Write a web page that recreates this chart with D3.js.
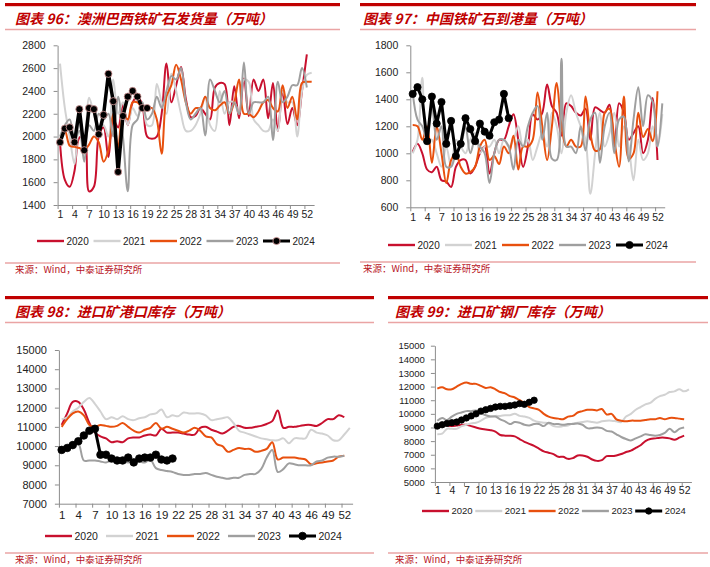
<!DOCTYPE html>
<html>
<head>
<meta charset="utf-8">
<script src="https://cdn.jsdelivr.net/npm/d3@7"></script>
<style>
  body { margin: 0; background: #fff; }
  svg { display: block; }
</style>
</head>
<body>
<svg id="chart" width="710" height="567"></svg>
<script>
// ---- Chart 96: Australia + Brazil iron ore shipments (10k t), by week ----
const ship2020 = [1950,1620,1560,1700,1990,2000,1520,1560,2000,2080,1820,2150,2080,2280,2100,2300,2350,2280,2000,1980,2000,2200,2640,2300,2450,2610,2330,2170,2180,2250,2200,2150,2430,2470,2460,2100,2440,2160,2510,2180,2500,2400,2500,2160,2470,2050,2400,2110,2250,2100,2400,2720];
const ship2021 = [2640,2250,2000,1760,2120,1900,2340,2200,2080,2100,2000,2500,2200,2300,2100,2250,2180,2300,2100,2100,2460,2300,2200,2550,2400,2200,2050,2050,2100,2200,2350,2100,2050,2400,2200,2300,2300,2200,2500,2480,2150,2100,2050,2050,2150,2050,2400,2300,2300,2000,2400,2540,2560];
const ship2022 = [1970,2050,1920,1910,1900,1880,1930,2000,1950,1780,1880,2200,1900,2200,2150,2300,2300,2250,2250,2250,2150,1850,2350,2450,2630,2500,2300,2200,2250,2250,2350,2250,2230,2270,2300,2200,2300,2500,2200,2200,2170,2220,2300,2320,2250,2220,2450,2250,2350,2150,2470,2480,2480];
const ship2023 = [2000,2100,2150,1980,2050,1780,2100,2050,2200,2150,2200,2000,2350,2000,1520,2100,2150,2300,2150,2200,2350,2250,2400,2530,2500,2600,2300,2150,2200,2250,2010,2500,2400,2300,2400,2200,2300,2200,2650,2200,2300,2300,2300,2350,1970,2480,2300,2350,2450,2450,2600,2430];
const ship2024 = [1950,2070,2080,1950,2240,1880,2250,2240,2020,2190,2550,2310,1690,2180,2350,2400,2350,2250,2250];

// ---- Chart 97: China iron ore arrivals (10k t) ----
const arr2020 = [1010,1070,1000,880,860,900,800,790,750,900,950,950,850,900,1000,1050,850,1000,1100,1100,1200,1290,1100,900,1050,1290,1250,1300,1510,1350,1300,1130,1370,1350,1300,1280,1330,1100,1340,1320,1300,1360,1050,1370,1300,1100,1150,1200,1000,1100,1410,950];
const arr2021 = [1000,1100,1560,1100,1100,1000,900,1050,900,1100,1050,1000,1100,1150,1000,1050,1050,1100,1000,1100,1050,1100,1200,1050,1100,950,1050,1150,1050,1300,1200,1000,1300,1430,1300,1200,1100,700,1000,1300,1050,1150,1300,1050,1200,1050,800,1100,950,1000,1200,1050,1290];
const arr2022 = [1210,1200,1100,1200,930,1200,1000,780,950,1000,900,850,860,900,1050,1100,950,980,920,1050,1000,1130,880,1050,1050,1100,1450,1200,950,1200,1520,1200,1050,1100,1050,1050,1420,1150,1020,1030,1300,1330,1100,900,1420,960,1000,1300,1120,1180,1090,1460];
const arr2023 = [1450,1250,1200,1100,1350,1100,1200,900,900,1000,1050,1200,1000,1100,1050,1000,780,1000,1100,1100,1050,880,1100,1050,1200,1300,1350,1100,1300,960,950,1700,1050,1050,1000,1200,1020,1250,1300,930,1200,1300,1000,1250,1270,940,1250,1490,1200,1430,1380,1050,1370];
const arr2024 = [1440,1490,1400,1090,1420,1220,1380,1070,1240,980,1070,1260,1180,1090,1220,1160,1130,1230,1250,1440,1260];

// ---- Chart 98: imported ore port inventory (10k t) ----
const port2020 = [11100,11700,12300,12300,11900,11200,10700,10500,10400,10200,10250,10200,10400,10450,10450,10550,10600,10550,10900,10700,10700,10700,10650,10600,10600,10950,11000,10850,10750,10650,10800,11000,11050,10950,10950,11000,11050,11150,11300,11850,10950,11000,11000,11050,11100,11100,11050,11200,11400,11400,11600,11500];
const port2021 = [11400,11500,11800,12000,12300,12500,12200,11800,11400,11500,11400,11550,11400,11350,11450,11500,11650,11700,11900,11500,11600,11550,11750,11700,11700,11700,11600,11350,11400,11450,11500,11200,10800,10700,10600,10500,10400,10350,10300,10300,10400,10150,10400,10400,10400,10850,10700,10650,10550,10300,10300,10600,10950];
const port2022 = [11000,11400,11700,11800,11600,11100,11000,11100,11050,11000,11050,11200,11000,10800,10700,10850,10950,11200,10900,11000,10900,10800,10700,10800,10950,10800,10500,10450,10100,10000,9700,9800,9900,9850,9850,9700,9750,9850,10200,9300,9400,9400,9400,9350,9300,9050,9100,9150,9200,9250,9450,9500];
const port2023 = [9800,10000,10200,10150,9250,9250,9250,9200,9150,9250,9250,9200,9150,9200,9200,9150,9300,8850,8750,8700,8650,8550,8500,8500,8550,8550,8600,8500,8400,8350,8300,8350,8350,8500,8550,8550,8800,9400,9800,8650,8800,9100,9050,9000,9000,9000,9200,9250,9400,9450,9450,9500];
const port2024 = [9800,9900,10050,10250,10550,10800,10900,9550,9550,9350,9250,9250,9400,9150,9350,9400,9400,9550,9300,9250,9350];

// ---- Chart 99: imported ore mill inventory (10k t) ----
const mill2020 = [9100,9200,9150,9100,9150,9200,9200,9100,9000,8900,8850,8800,8700,8450,8400,8400,8350,8150,7950,7800,7650,7450,7250,7150,7050,6850,6850,6700,6750,6950,6950,6850,6650,6550,6600,6900,6900,6950,7050,7200,7300,7500,7700,8000,8150,8200,8250,8250,8200,8100,8250,8400];
const mill2021 = [8500,8550,8900,8900,8900,9100,9200,9300,9350,9500,9700,9800,9850,9850,9900,9900,10000,9850,9800,9700,9500,9400,9350,9300,9100,9050,9100,9150,9300,9350,9400,9450,9400,9350,9450,9500,9500,9450,9400,9800,10000,10300,10500,10700,10800,11100,11300,11400,11600,11650,11800,11650,11800];
const mill2022 = [11850,11950,11800,11800,12000,12200,12300,12200,12200,12050,11900,11950,11800,11600,11500,11300,11200,11000,10800,10500,10400,10300,10000,9800,9700,9650,9600,9800,9850,10100,10200,10300,10300,10250,10350,9950,10000,9600,9500,9450,9500,9500,9500,9550,9600,9600,9700,9600,9700,9700,9650,9600];
const mill2023 = [9500,9700,9550,9800,10000,10100,10200,10200,10250,10050,9900,9800,9800,9600,9450,9250,9400,9350,9200,9150,9250,9250,9100,9350,9250,9250,9200,9250,9250,9300,9200,8950,8950,9000,8950,8750,8700,8500,8300,8150,8050,8200,8350,8500,8450,8400,8450,8600,8900,8650,8900,9000];
const mill2024 = [9100,9200,9300,9350,9400,9550,9700,9850,10000,10200,10300,10400,10500,10550,10550,10600,10650,10750,10700,10850,11000];

const years = ['2020', '2021', '2022', '2023', '2024'];
const yearColors = ['#c8102e', '#d2d2d2', '#e8500e', '#9f9f9f', '#000000'];
const weekLabels = [1, 4, 7, 10, 13, 16, 19, 22, 25, 28, 31, 34, 37, 40, 43, 46, 49, 52];
const sourceText = '来源：Wind，中泰证券研究所';

const RED = '#c00000';
const svg = d3.select('#chart');
svg.append('rect').attr('width', 710).attr('height', 567).attr('fill', '#fff');

function drawPanel(p) {
    const g = svg.append('g');

    // header: thick red bar, title, thin pink rule
    g.append('rect')
        .attr('x', p.frame[0]).attr('y', p.top)
        .attr('width', p.frame[1] - p.frame[0]).attr('height', 3.2)
        .attr('fill', RED);
    g.append('text')
        .attr('x', p.titleX).attr('y', p.top + 21)
        .attr('font-family', '"Noto Sans CJK SC", "Liberation Sans", sans-serif')
        .attr('font-size', 14).attr('font-weight', 700).attr('font-style', 'italic')
        .attr('fill', RED)
        .text(p.title);
    g.append('line')
        .attr('x1', p.frame[0]).attr('x2', p.frame[1])
        .attr('y1', p.top + 26.5).attr('y2', p.top + 26.5)
        .attr('stroke', '#eaa4a4').attr('stroke-width', 1.3);

    // source footer
    g.append('line')
        .attr('x1', p.frame[0]).attr('x2', p.frame[1])
        .attr('y1', p.srcY).attr('y2', p.srcY)
        .attr('stroke', '#eaa4a4').attr('stroke-width', 1.3);
    g.append('text')
        .attr('x', p.titleX).attr('y', p.srcY + 10)
        .attr('font-family', '"Noto Sans CJK SC", "DejaVu Sans Mono", monospace')
        .attr('font-size', 9.5).attr('fill', '#b8141e')
        .text(sourceText);

    const x = d3.scaleLinear().domain([0.5, 53.5]).range(p.xRange);
    const y = d3.scaleLinear().domain(p.yDomain).range(p.yRange);

    // y axis
    const yAxis = g.append('g')
        .attr('transform', `translate(${p.xRange[0]},0)`)
        .call(d3.axisLeft(y).tickValues(p.yTicks).tickFormat(d3.format('d'))
            .tickSize(4).tickPadding(p.yPad).tickSizeOuter(0));
    yAxis.selectAll('text')
        .attr('font-family', '"Liberation Sans", Arial, sans-serif')
        .attr('font-size', p.yFont).attr('fill', '#222');

    // x axis: ticks on category boundaries every 3 weeks, labels centred on weeks
    const bottom = p.yRange[0];
    const boundaries = weekLabels.map(w => w - 0.5);
    g.append('g')
        .attr('transform', `translate(0,${bottom})`)
        .call(d3.axisBottom(x).tickValues(boundaries).tickSize(4).tickFormat('').tickSizeOuter(0));
    const xLab = g.append('g')
        .attr('transform', `translate(0,${bottom})`)
        .call(d3.axisBottom(x).tickValues(weekLabels).tickSize(0).tickPadding(p.xPad));
    xLab.select('.domain').remove();
    xLab.selectAll('text')
        .attr('font-family', '"Liberation Sans", Arial, sans-serif')
        .attr('font-size', p.xFont).attr('fill', '#222');

    g.selectAll('.domain, .tick line').attr('stroke', '#8c8c8c');

    // series
    const smooth = d3.line().x((d, i) => x(i + 1)).y(d => y(d)).curve(d3.curveCatmullRom.alpha(0.5));
    const straight = d3.line().x((d, i) => x(i + 1)).y(d => y(d));

    p.series.forEach((vals, k) => {
        const last = k === 4;
        g.append('path')
            .datum(vals)
            .attr('d', last ? straight : smooth)
            .attr('fill', 'none')
            .attr('stroke', yearColors[k])
            .attr('stroke-width', last ? p.boldWidth : 2)
            .attr('stroke-linejoin', 'round');
        if (last) {
            g.selectAll(null)
                .data(vals)
                .join('circle')
                .attr('cx', (d, i) => x(i + 1))
                .attr('cy', d => y(d))
                .attr('r', p.markR)
                .attr('fill', '#000')
                .attr('stroke', p.markStroke)
                .attr('stroke-width', 0.8);
        }
    });

    // legend
    const leg = g.append('g').attr('transform', `translate(${p.legX},${p.legY})`);
    years.forEach((yr, k) => {
        const item = leg.append('g').attr('transform', `translate(${k * p.legStep},0)`);
        item.append('line')
            .attr('x1', 0).attr('x2', 27).attr('y1', 0).attr('y2', 0)
            .attr('stroke', yearColors[k]).attr('stroke-width', k === 4 ? 3 : 2.4);
        if (k === 4) {
            item.append('circle').attr('cx', 13.5).attr('cy', 0).attr('r', p.markR)
                .attr('fill', '#000').attr('stroke', p.markStroke).attr('stroke-width', 0.8);
        }
        item.append('text')
            .attr('x', 29.5).attr('y', 0).attr('dy', '0.35em')
            .attr('font-family', '"Liberation Sans", Arial, sans-serif')
            .attr('font-size', p.legFont).attr('fill', '#222')
            .text(yr);
    });
}

drawPanel({
    frame: [5, 340], top: 3, titleX: 15, srcY: 263,
    title: '图表 96：澳洲巴西铁矿石发货量（万吨）',
    xRange: [57.6, 314.1], yDomain: [1400, 2800], yRange: [205, 45.3],
    yTicks: d3.range(1400, 2801, 200), yPad: 8, yFont: 10.5, xPad: 6, xFont: 10.5,
    series: [ship2020, ship2021, ship2022, ship2023, ship2024],
    boldWidth: 3.5, markR: 3.6, markStroke: '#d69a9a',
    legX: 37, legY: 241, legStep: 56.5, legFont: 10
});

drawPanel({
    frame: [360, 696], top: 3, titleX: 363, srcY: 262,
    title: '图表 97：中国铁矿石到港量（万吨）',
    xRange: [410.3, 664.7], yDomain: [600, 1800], yRange: [207.3, 45.3],
    yTicks: d3.range(600, 1801, 200), yPad: 8, yFont: 10.5, xPad: 6, xFont: 10.5,
    series: [arr2020, arr2021, arr2022, arr2023, arr2024],
    boldWidth: 3, markR: 3.6, markStroke: '#000',
    legX: 388, legY: 245, legStep: 57, legFont: 10
});

drawPanel({
    frame: [5, 374], top: 296, titleX: 15, srcY: 553,
    title: '图表 98：进口矿港口库存（万吨）',
    xRange: [58.9, 352.6], yDomain: [7000, 15000], yRange: [503.7, 350],
    yTicks: d3.range(7000, 15001, 1000), yPad: 8, yFont: 11, xPad: 7, xFont: 11.5,
    series: [port2020, port2021, port2022, port2023, port2024],
    boldWidth: 3, markR: 3.8, markStroke: '#000',
    legX: 45, legY: 536, legStep: 61, legFont: 10.5
});

drawPanel({
    frame: [388, 708], top: 296, titleX: 395, srcY: 553,
    title: '图表 99：进口矿钢厂库存（万吨）',
    xRange: [434.9, 691.4], yDomain: [5000, 15000], yRange: [482, 345.7],
    yTicks: d3.range(5000, 15001, 1000), yPad: 6, yFont: 9.5, xPad: 5, xFont: 10.5,
    series: [mill2020, mill2021, mill2022, mill2023, mill2024],
    boldWidth: 3, markR: 3.2, markStroke: '#000',
    legX: 422, legY: 511, legStep: 53.3, legFont: 9.5
});
</script>
</body>
</html>
